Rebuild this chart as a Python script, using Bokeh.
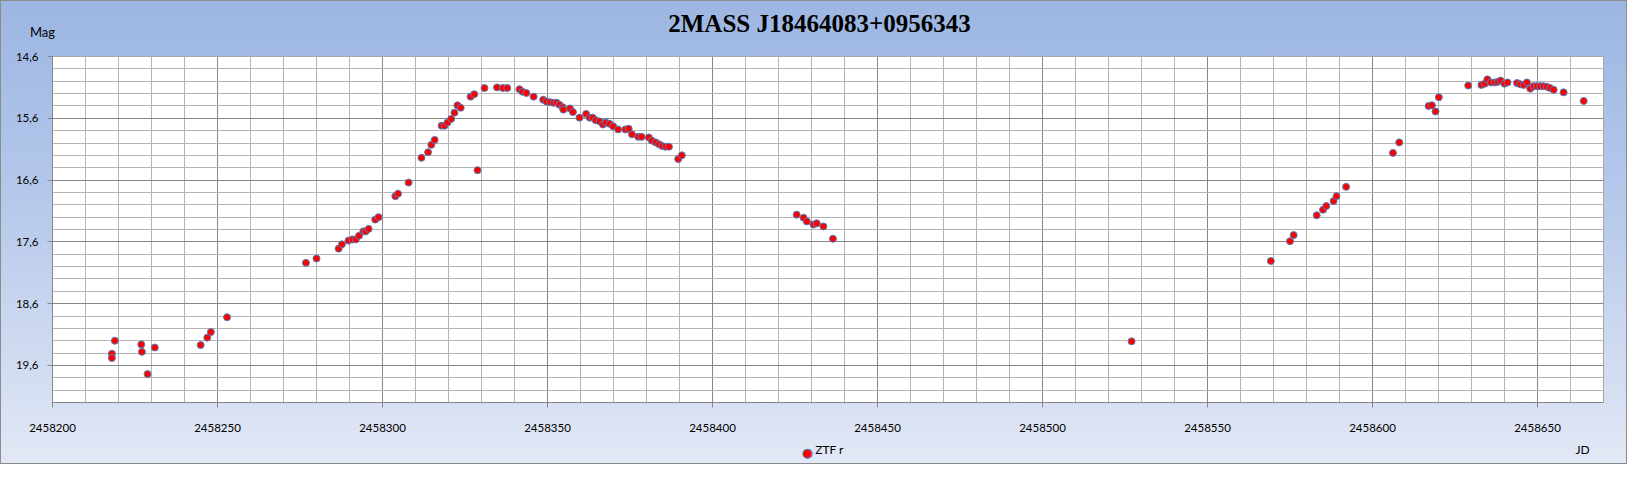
from bokeh.plotting import figure
from bokeh.models import Range1d, FixedTicker, ColumnDataSource, LinearAxis
from bokeh.embed import file_html
from bokeh.resources import INLINE

# ---------------- data ----------------
title_text = "2MASS J18464083+0956343"
y_label_text = "Mag"
x_label_text = "JD"
series_name = "ZTF r"

jd = [
    2458218.0, 2458218.0, 2458218.9, 2458226.9, 2458227.1, 2458228.8, 2458231.0,
    2458244.9, 2458246.9, 2458248.0, 2458252.9,
    2458276.8, 2458280.0, 2458286.7, 2458287.7, 2458289.7, 2458290.9, 2458291.9,
    2458292.9, 2458294.2, 2458294.9, 2458295.8, 2458297.8, 2458298.8, 2458303.9,
    2458304.7, 2458307.9, 2458311.8, 2458313.8, 2458314.8, 2458315.8, 2458317.9,
    2458318.8, 2458319.7, 2458320.8, 2458321.8, 2458322.7, 2458323.7, 2458326.7,
    2458327.8, 2458328.8, 2458330.9, 2458334.7, 2458336.5, 2458337.8, 2458341.5,
    2458342.4, 2458343.6, 2458345.8, 2458348.7, 2458349.7, 2458350.8, 2458351.8,
    2458352.8, 2458353.6, 2458354.6, 2458354.8, 2458356.8, 2458357.7, 2458359.7,
    2458361.7, 2458362.8, 2458363.7, 2458364.6, 2458365.8, 2458366.8, 2458367.7,
    2458368.8, 2458369.9, 2458371.4, 2458373.6, 2458374.6, 2458375.6, 2458377.5,
    2458378.5, 2458380.7, 2458381.6, 2458382.8, 2458383.8, 2458384.8, 2458385.8,
    2458386.8, 2458389.6, 2458390.7,
    2458425.5, 2458427.6, 2458428.6, 2458430.6, 2458431.6, 2458433.6, 2458436.5,
    2458527.0,
    2458569.2, 2458575.0, 2458576.1, 2458583.1, 2458585.0, 2458586.0, 2458588.2,
    2458589.1, 2458592.0, 2458606.2, 2458608.1, 2458617.0, 2458618.0, 2458619.1,
    2458620.1, 2458629.0, 2458633.0, 2458634.0, 2458634.8, 2458635.9, 2458637.1,
    2458638.0, 2458638.8, 2458640.0, 2458640.9, 2458643.8, 2458644.8, 2458645.8,
    2458646.8, 2458647.8, 2458648.8, 2458649.8, 2458650.8, 2458651.8, 2458652.8,
    2458653.8, 2458654.9, 2458657.9, 2458664.0,
]
mag = [
    19.41, 19.48, 19.20, 19.26, 19.38, 19.74, 19.31,
    19.27, 19.15, 19.06, 18.82,
    17.94, 17.87, 17.71, 17.64, 17.58, 17.56, 17.56,
    17.50, 17.43, 17.43, 17.39, 17.24, 17.20, 16.86,
    16.82, 16.64, 16.24, 16.15, 16.03, 15.95, 15.72,
    15.72, 15.67, 15.61, 15.51, 15.39, 15.43, 15.25,
    15.21, 16.44, 15.11, 15.10, 15.11, 15.11, 15.13,
    15.17, 15.19, 15.25, 15.30, 15.33, 15.34, 15.35,
    15.35, 15.38, 15.42, 15.46, 15.44, 15.50, 15.59,
    15.53, 15.59, 15.59, 15.63, 15.65, 15.70, 15.67,
    15.69, 15.73, 15.78, 15.78, 15.77, 15.86, 15.90,
    15.90, 15.91, 15.96, 15.99, 16.02, 16.05, 16.06,
    16.06, 16.26, 16.20,
    17.16, 17.21, 17.27, 17.32, 17.30, 17.35, 17.55,
    19.21,
    17.91, 17.59, 17.49, 17.17, 17.08, 17.02, 16.94,
    16.86, 16.71, 16.16, 15.99, 15.40, 15.39, 15.49,
    15.26, 15.07, 15.06, 15.04, 14.97, 15.02, 15.02,
    15.01, 14.99, 15.04, 15.02, 15.03, 15.05, 15.06,
    15.02, 15.12, 15.08, 15.08, 15.08, 15.08, 15.09,
    15.11, 15.14, 15.18, 15.32,
]

x_ticks = [2458200, 2458250, 2458300, 2458350, 2458400, 2458450, 2458500, 2458550, 2458600, 2458650]
x_tick_labels = ["2458200", "2458250", "2458300", "2458350", "2458400",
                 "2458450", "2458500", "2458550", "2458600", "2458650"]
y_ticks = [14.6, 15.6, 16.6, 17.6, 18.6, 19.6]
y_tick_labels = ["14,6", "15,6", "16,6", "17,6", "18,6", "19,6"]

# ---------------- layout ----------------
X0, X1 = 2458200, 2458670
Y_TOP, Y_BOT = 14.6, 20.2
W, H = 1627, 464
ML, MR, MT, MB = 52, 24, 56, 62
PX_DAY = (W - ML - MR) / (X1 - X0)

def x_at(px):  # horizontal pixel position (from figure left) -> x data value
    return X0 + (px - ML) / PX_DAY

p = figure(width=W, height=H, output_backend="svg", toolbar_location=None,
           x_range=Range1d(X0, X1), y_range=Range1d(Y_BOT, Y_TOP),
           min_border_left=ML, min_border_right=MR, min_border_top=MT, min_border_bottom=MB,
           title=None)

p.styles = {"background": "linear-gradient(180deg, #9cb6e2 0%, #b3c7ea 40%, #e2e8f5 100%)",
            "box-shadow": "inset 0 0 0 1px #8c8c8c"}
p.border_fill_alpha = 0
p.background_fill_color = "white"
p.outline_line_color = "#a6a6a6"

xa = p.xaxis[0]
ya = p.yaxis[0]

minor_x = list(range(X0, X1 + 1, 10))
minor_y = [round(Y_TOP + 0.2 * i, 1) for i in range(int(round((Y_BOT - Y_TOP) / 0.2)) + 1)]
xt = FixedTicker(ticks=x_ticks, minor_ticks=minor_x)
yt = FixedTicker(ticks=y_ticks, minor_ticks=minor_y)
xa.ticker = xt
ya.ticker = yt
p.xgrid.ticker = xt
p.ygrid.ticker = yt
xa.major_label_overrides = dict(zip(x_ticks, x_tick_labels))
ya.major_label_overrides = dict(zip(y_ticks, y_tick_labels))

for ax in (xa, ya):
    ax.axis_line_color = "#868686"
    ax.major_tick_line_color = "#868686"
    ax.major_tick_out = 5
    ax.major_tick_in = 0
    ax.minor_tick_out = 0
    ax.minor_tick_in = 0
    ax.major_label_text_font = "Lato"
    ax.major_label_text_font_size = "11.5px"
    ax.major_label_text_color = "#000000"
xa.major_label_standoff = 16
ya.major_label_standoff = 9

for g in (p.xgrid, p.ygrid):
    g.grid_line_color = "#868686"
    g.grid_line_width = 1
    g.minor_grid_line_color = "#b4b4b4"
    g.minor_grid_line_width = 1

src = ColumnDataSource(dict(jd=jd, mag=mag))
p.scatter("jd", "mag", source=src, size=7, fill_color="#ff0000",
          line_color="#4f81bd", line_width=1)


def text_axis(ticks, labels, font, size, standoff, color="#000000", style="normal",
              outline=None):
    ax = LinearAxis(ticker=FixedTicker(ticks=ticks, minor_ticks=[]),
                    major_label_overrides=dict(zip(ticks, labels)))
    ax.axis_line_alpha = 0
    ax.major_tick_line_alpha = 0
    ax.minor_tick_line_alpha = 0
    ax.major_tick_out = 0
    ax.major_tick_in = 0
    ax.minor_tick_out = 0
    ax.minor_tick_in = 0
    ax.major_label_standoff = standoff
    ax.major_label_text_font = font
    ax.major_label_text_font_size = size
    ax.major_label_text_font_style = style
    ax.major_label_text_color = color
    if outline is not None:
        ax.major_label_text_outline_color = outline
    return ax

# above the frame: chart title (nearest), then "Mag"
title_x = x_at(819)
p.add_layout(text_axis([title_x], [title_text], "Liberation Serif", "25px", 20,
                       style="bold"), "above")
# trailing no-break spaces shift the centred word left of the frame edge
p.add_layout(text_axis([X0], [y_label_text + "\u00a0" * 6], "Lato", "13px", -33), "above")

# below the x axis: legend text + "JD", then the legend marker
ztf_x = x_at(829)
jd_x = x_at(1582)
p.add_layout(text_axis([ztf_x, jd_x], [series_name, x_label_text], "Lato", "12px", 7), "below")
mark_x = x_at(807)
p.add_layout(text_axis([mark_x], ["\u25cf"], "DejaVu Sans", "12px", -14,
                       color="#ff0000", outline="#4f81bd"), "below")

open("out.html", "w").write(file_html(p, INLINE))
